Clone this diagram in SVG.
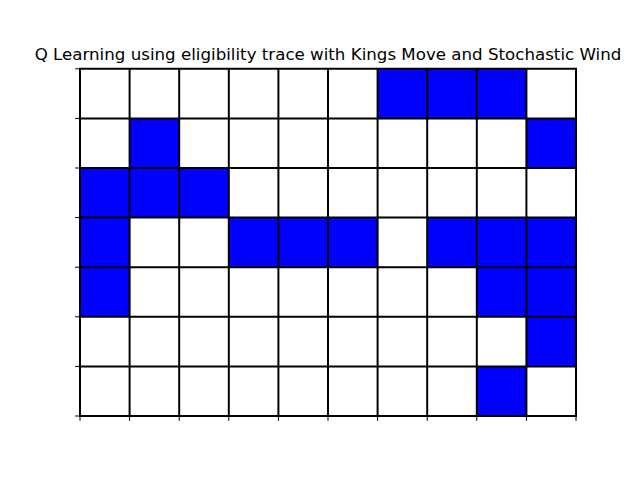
<svg xmlns="http://www.w3.org/2000/svg" width="640" height="480" viewBox="0 0 640 480">
<style>
.t{font-family:"DejaVu Sans",sans-serif;font-size:16.67px;fill:#000}
.b{fill:#0000ff}
.g{stroke:#000;stroke-width:2;fill:none}
.k{stroke:#000;stroke-width:1;fill:none}
</style>
<rect width="640" height="480" fill="#fff"/>
<text class="t" x="328" y="60" text-anchor="middle">Q Learning using eligibility trace with Kings Move and Stochastic Wind</text>
<g id="cells">
<rect class="b" x="377.6" y="68.8" width="49.6" height="49.6"/>
<rect class="b" x="427.2" y="68.8" width="49.6" height="49.6"/>
<rect class="b" x="476.8" y="68.8" width="49.6" height="49.6"/>
<rect class="b" x="129.6" y="118.4" width="49.6" height="49.6"/>
<rect class="b" x="526.4" y="118.4" width="49.6" height="49.6"/>
<rect class="b" x="80" y="168" width="49.6" height="49.6"/>
<rect class="b" x="129.6" y="168" width="49.6" height="49.6"/>
<rect class="b" x="179.2" y="168" width="49.6" height="49.6"/>
<rect class="b" x="80" y="217.6" width="49.6" height="49.6"/>
<rect class="b" x="228.8" y="217.6" width="49.6" height="49.6"/>
<rect class="b" x="278.4" y="217.6" width="49.6" height="49.6"/>
<rect class="b" x="328" y="217.6" width="49.6" height="49.6"/>
<rect class="b" x="427.2" y="217.6" width="49.6" height="49.6"/>
<rect class="b" x="476.8" y="217.6" width="49.6" height="49.6"/>
<rect class="b" x="526.4" y="217.6" width="49.6" height="49.6"/>
<rect class="b" x="80" y="267.2" width="49.6" height="49.6"/>
<rect class="b" x="476.8" y="267.2" width="49.6" height="49.6"/>
<rect class="b" x="526.4" y="267.2" width="49.6" height="49.6"/>
<rect class="b" x="526.4" y="316.8" width="49.6" height="49.6"/>
<rect class="b" x="476.8" y="366.4" width="49.6" height="49.6"/>
</g>
<g id="grid">
<path class="g" d="M80,68.8V416M129.6,68.8V416M179.2,68.8V416M228.8,68.8V416M278.4,68.8V416M328,68.8V416M377.6,68.8V416M427.2,68.8V416M476.8,68.8V416M526.4,68.8V416M576,68.8V416"/>
<path class="g" d="M79,68.8H577M79,118.4H577M79,168H577M79,217.6H577M79,267.2H577M79,316.8H577M79,366.4H577M79,416H577"/>
</g>
<g id="ticks">
<path class="k" d="M75.1,68.8H80M75.1,118.4H80M75.1,168H80M75.1,217.6H80M75.1,267.2H80M75.1,316.8H80M75.1,366.4H80M75.1,416H80"/>
<path class="k" d="M80,416V420.9M129.6,416V420.9M179.2,416V420.9M228.8,416V420.9M278.4,416V420.9M328,416V420.9M377.6,416V420.9M427.2,416V420.9M476.8,416V420.9M526.4,416V420.9M576,416V420.9"/>
</g>
</svg>
